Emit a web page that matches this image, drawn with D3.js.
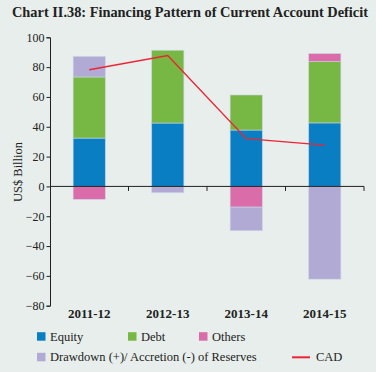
<!DOCTYPE html>
<html>
<head>
<meta charset="utf-8">
<script src="https://cdn.jsdelivr.net/npm/d3@7"></script>
<style>
    html, body { margin: 0; padding: 0; background: #e7eeeb; }
    svg { display: block; }
    text { font-family: "Liberation Serif", "DejaVu Serif", serif; fill: #222; }
</style>
</head>
<body>
<div id="chart"></div>
<script>
var years = ['2011-12', '2012-13', '2013-14', '2014-15'];
var equity = [32.4, 42.5, 37.8, 42.6];
var debt = [41.0, 48.8, 23.5, 41.1];
var others = [-8.7, 0, -13.9, 5.4];
var reserves = [13.8, -4.2, -15.8, -62.2];
var cad = [78.2, 87.8, 32.0, 27.7];
var yTicks = [-80, -60, -40, -20, 0, 20, 40, 60, 80, 100];

(function () {
    let width = 376, height = 372,
        margins = { left: 50, right: 12, top: 37.3, bottom: 66.3 };

    let series = [
        { key: 'equity', name: 'Equity', color: '#0a7ec3', values: equity },
        { key: 'debt', name: 'Debt', color: '#76b843', values: debt },
        { key: 'others', name: 'Others', color: '#da6caa', values: others },
        { key: 'reserves', name: 'Drawdown (+)/ Accretion (-) of Reserves', color: '#b0aad5', values: reserves }
    ];

    let table = years.map(function (y, i) {
        let row = { year: y };
        series.forEach(function (s) { row[s.key] = s.values[i]; });
        return row;
    });

    let stacked = d3.stack()
        .keys(series.map(function (s) { return s.key; }))
        .offset(d3.stackOffsetDiverging)(table);

    let x = d3.scaleBand().domain(years)
        .range([margins.left, width - margins.right])
        .paddingInner(0.59).paddingOuter(0.295);
    let y = d3.scaleLinear().domain([-80, 100])
        .range([height - margins.bottom, margins.top]);

    let svg = d3.select('#chart').append('svg')
        .attr('width', width).attr('height', height);

    svg.append('rect').attr('width', width).attr('height', height).attr('fill', '#e7eeeb');

    svg.append('text')
        .attr('x', 12).attr('y', 17)
        .attr('font-size', 14).attr('font-weight', 'bold')
        .attr('textLength', 356).attr('lengthAdjust', 'spacingAndGlyphs')
        .text('Chart II.38: Financing Pattern of Current Account Deficit');

    // bars
    svg.append('g').selectAll('g').data(stacked).enter().append('g')
        .attr('fill', function (d, i) { return series[i].color; })
        .selectAll('rect').data(function (d) { return d; }).enter().append('rect')
        .attr('x', function (d) { return x(d.data.year); })
        .attr('width', x.bandwidth())
        .attr('y', function (d) { return y(Math.max(d[0], d[1])); })
        .attr('height', function (d) { return Math.abs(y(d[0]) - y(d[1])); })
        .attr('stroke', '#cdd6e8').attr('stroke-opacity', 0.7).attr('stroke-width', 0.8);

    // y axis
    let yAxis = svg.append('g')
        .attr('transform', 'translate(' + margins.left + ',0)')
        .call(d3.axisLeft(y).tickValues(yTicks).tickSize(3.5).tickPadding(2));
    yAxis.select('.domain').attr('stroke', '#222');
    yAxis.selectAll('.tick line').attr('stroke', '#222');
    yAxis.selectAll('.tick text')
        .attr('font-size', 12).attr('fill', '#333')
        .style('font-family', '"Liberation Serif", serif');

    // zero line and category ticks
    let x0 = svg.append('g').attr('transform', 'translate(0,' + y(0) + ')');
    x0.append('line')
        .attr('x1', margins.left).attr('x2', width - margins.right)
        .attr('stroke', '#222').attr('stroke-width', 1);
    x0.selectAll('line.tk').data(years).enter().append('line')
        .attr('class', 'tk')
        .attr('x1', function (d) { return x(d) + x.bandwidth() + x.step() * x.paddingInner() / 2; })
        .attr('x2', function (d) { return x(d) + x.bandwidth() + x.step() * x.paddingInner() / 2; })
        .attr('y1', 0).attr('y2', 4.5)
        .attr('stroke', '#222');

    svg.append('g').selectAll('text').data(years).enter().append('text')
        .attr('x', function (d) { return x(d) + x.bandwidth() / 2; })
        .attr('y', 317.5)
        .attr('text-anchor', 'middle')
        .attr('font-size', 13).attr('font-weight', 'bold').attr('fill', '#333')
        .text(function (d) { return d; });

    svg.append('text')
        .attr('transform', 'translate(22,172) rotate(-90)')
        .attr('text-anchor', 'middle')
        .attr('font-size', 12.5).attr('fill', '#333')
        .text('US$ Billion');

    // CAD line
    let line = d3.line()
        .x(function (d, i) { return x(years[i]) + x.bandwidth() / 2; })
        .y(function (d) { return y(d); });
    svg.append('path').datum(cad)
        .attr('d', line)
        .attr('fill', 'none').attr('stroke', '#ec2436').attr('stroke-width', 1.4);

    // legend
    let legendItems = [
        { s: series[0], x: 37, y: 336.7 },
        { s: series[1], x: 128, y: 336.7 },
        { s: series[2], x: 199, y: 336.7 },
        { s: series[3], x: 37, y: 357.3 }
    ];
    let lg = svg.append('g');
    legendItems.forEach(function (it) {
        lg.append('rect')
            .attr('x', it.x).attr('y', it.y - 4.5)
            .attr('width', 8.5).attr('height', 8.5)
            .attr('fill', it.s.color);
        lg.append('text')
            .attr('x', it.x + 13).attr('y', it.y + 4)
            .attr('font-size', 12.5).attr('fill', '#333')
            .text(it.s.name);
    });
    lg.append('line')
        .attr('x1', 292).attr('x2', 310).attr('y1', 357.3).attr('y2', 357.3)
        .attr('stroke', '#ec2436').attr('stroke-width', 2);
    lg.append('text')
        .attr('x', 316).attr('y', 361.3)
        .attr('font-size', 12.5).attr('fill', '#333')
        .text('CAD');
})();
</script>
</body>
</html>
